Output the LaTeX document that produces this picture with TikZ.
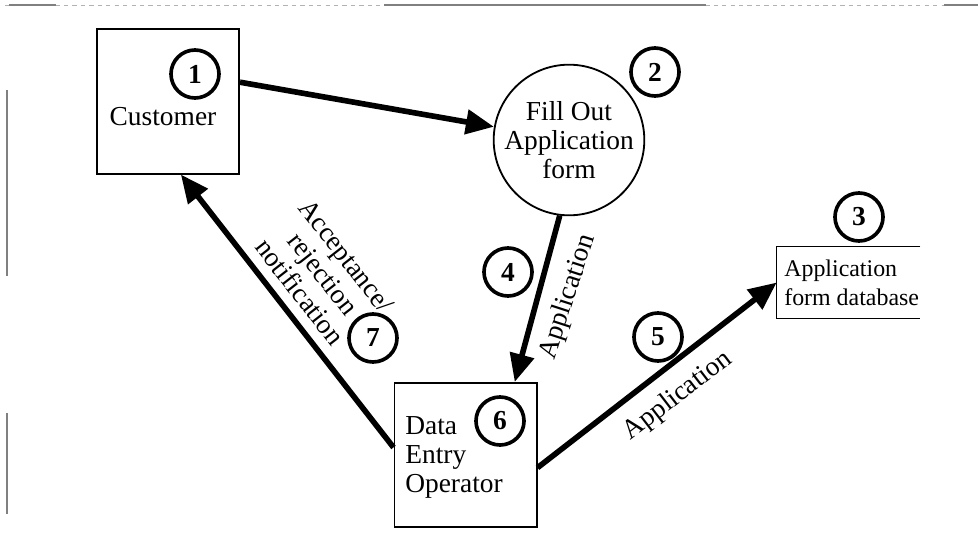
\documentclass[tikz,border=0pt]{standalone}
\usepackage{fontspec}
\setmainfont{Liberation Serif}
\usetikzlibrary{arrows.meta}

\begin{document}
\begin{tikzpicture}[
  x=0.025cm, y=-0.025cm,
  every node/.style={font=\fontsize{19.5}{20.8}\selectfont, inner sep=0pt},
  procbox/.style={draw, line width=1.4pt, minimum width=3.55cm, minimum height=3.6cm},
  bubble/.style={draw, circle, line width=1.3pt, minimum size=3.75cm, align=center},
  numcirc/.style={draw, circle, line width=2.6pt, minimum size=1.2cm, fill=white,
    font=\fontsize{19.5}{20}\selectfont\bfseries},
  flow/.style={line width=4pt, -{Triangle[length=0.7cm, width=0.6cm]}},
  scanline/.style={gray, line width=0.8pt}
]
  \useasboundingbox (0,0) rectangle (978,546);

  % scanner edges
  \draw[gray!60, line width=0.4pt, dash pattern=on 3pt off 3pt] (5,5) -- (978,5);
  \draw[scanline] (9,5) -- (56,5) (384,5) -- (706,5) (944,5) -- (978,5);
  \draw[scanline] (7,90) -- (7,276) (7,413) -- (7,514);

  % entities and processes
  \node[procbox] (customer) at (168,101.5) {};
  \node (custname) at (163,117) {Customer};
  \node[bubble] (fillout) at (569,140) {Fill Out\\Application\\form};
  \node[procbox] (dataentry) at (465.5,455) {};
  \node[align=left, anchor=west] (dename) at (405,457.5) {Data\\Entry\\Operator};

  % data store
  \node[minimum width=3.575cm, minimum height=1.775cm] (database) at (848.5,282.5) {};
  \draw[line width=1.1pt] (database.north east) -- (database.north west)
    -- (database.south west) -- (database.south east);
  \node[align=left, anchor=west, font=\fontsize{17}{20.8}\selectfont] (dbname) at (784,283)
    {Application\\form database};

  % flows
  \draw[flow] (customer.15) -- (fillout.170);
  \draw[flow] (fillout.263) -- (dataentry.56);
  \draw[flow] (dataentry.174) -- (customer.280);
  \draw[flow] (dataentry.350) -- (database.west);

  \node[rotate=72] (applabel4) at (568,297) {Application};
  \node[rotate=37.6] (applabel5) at (678,396) {Application};
  \node[rotate=-52, align=center] (notelabel) at (323,274) {Acceptance/\\rejection\\notification};

  % numbers
  \node[numcirc] (num1) at (195,74) {1};
  \node[numcirc] (num2) at (655,72) {2};
  \node[numcirc] (num3) at (859,217) {3};
  \node[numcirc] (num4) at (508,272) {4};
  \node[numcirc] (num5) at (658,337) {5};
  \node[numcirc] (num6) at (500,421) {6};
  \node[numcirc] (num7) at (373,338) {7};
\end{tikzpicture}
\end{document}
